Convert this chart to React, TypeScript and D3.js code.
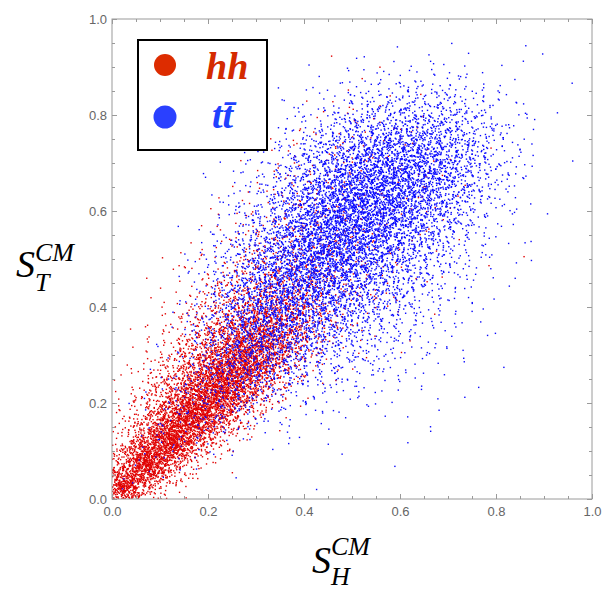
import React, { useRef, useEffect } from "react";
import * as d3 from "d3";

// Densities: number of events in each 0.05 x 0.05 cell.
// Rows go from the top of the plot (S_T 0.95-1.0) down to the bottom (0.0-0.05),
// columns from S_H 0.0-0.05 to 0.95-1.0.
const hhCounts: number[][] = [
  [0, 0, 0, 0, 0, 0, 0, 0, 0, 0, 0, 0, 0, 0, 0, 0, 0, 0, 0, 0],
  [0, 0, 0, 0, 0, 0, 0, 0, 0, 1, 0, 0, 0, 0, 0, 0, 0, 0, 0, 0],
  [0, 0, 0, 0, 0, 0, 0, 0, 0, 1, 1, 1, 0, 0, 0, 0, 0, 0, 0, 0],
  [0, 0, 0, 0, 0, 0, 0, 0, 1, 2, 2, 2, 1, 0, 0, 0, 0, 0, 0, 0],
  [0, 0, 0, 0, 0, 0, 0, 2, 3, 4, 4, 3, 2, 1, 0, 0, 0, 0, 0, 0],
  [0, 0, 0, 0, 0, 0, 2, 4, 5, 6, 6, 5, 3, 2, 1, 1, 0, 0, 0, 0],
  [0, 0, 0, 0, 0, 2, 4, 6, 8, 8, 7, 5, 4, 2, 1, 0, 0, 0, 0, 0],
  [0, 0, 0, 0, 1, 3, 6, 10, 12, 11, 8, 6, 4, 2, 1, 0, 0, 0, 0, 0],
  [0, 0, 0, 1, 3, 7, 12, 16, 18, 15, 10, 6, 3, 2, 1, 0, 0, 0, 0, 0],
  [0, 0, 1, 3, 7, 14, 24, 30, 28, 20, 12, 6, 3, 1, 1, 0, 1, 0, 0, 0],
  [0, 0, 2, 6, 14, 28, 42, 45, 35, 20, 10, 5, 2, 1, 0, 1, 0, 0, 0, 0],
  [0, 1, 5, 14, 32, 60, 80, 75, 45, 20, 8, 4, 2, 1, 0, 0, 0, 0, 0, 0],
  [0, 3, 10, 30, 70, 130, 160, 120, 50, 14, 4, 2, 1, 0, 0, 0, 0, 0, 0, 0],
  [1, 6, 22, 65, 150, 250, 240, 100, 25, 6, 2, 1, 0, 0, 0, 0, 0, 0, 0, 0],
  [2, 14, 50, 140, 300, 360, 170, 35, 7, 2, 1, 0, 0, 0, 0, 0, 0, 0, 0, 0],
  [5, 30, 110, 280, 440, 230, 45, 8, 1, 0, 0, 0, 0, 0, 0, 0, 0, 0, 0, 0],
  [12, 70, 260, 480, 230, 40, 6, 1, 0, 0, 0, 0, 0, 0, 0, 0, 0, 0, 0, 0],
  [30, 200, 520, 200, 30, 4, 0, 0, 0, 0, 0, 0, 0, 0, 0, 0, 0, 0, 0, 0],
  [120, 520, 150, 15, 2, 0, 0, 0, 0, 0, 0, 0, 0, 0, 0, 0, 0, 0, 0, 0],
  [450, 90, 6, 1, 0, 0, 0, 0, 0, 0, 0, 0, 0, 0, 0, 0, 0, 0, 0, 0],
];

const ttCounts: number[][] = [
  [0, 0, 0, 0, 0, 0, 0, 0, 0, 0, 0, 0, 0, 0, 0, 0, 0, 1, 0, 0],
  [0, 0, 0, 0, 0, 0, 0, 0, 0, 0, 1, 1, 1, 1, 2, 0, 1, 1, 0, 0],
  [0, 0, 0, 0, 0, 0, 0, 1, 2, 3, 6, 8, 10, 10, 8, 5, 2, 0, 0, 1],
  [0, 0, 0, 0, 1, 1, 1, 4, 8, 14, 24, 32, 38, 36, 28, 16, 6, 2, 1, 0],
  [0, 0, 0, 1, 1, 1, 3, 10, 20, 38, 62, 78, 85, 80, 56, 30, 10, 3, 0, 0],
  [0, 0, 0, 0, 1, 3, 8, 22, 50, 85, 125, 140, 140, 115, 78, 40, 13, 3, 1, 0],
  [0, 0, 0, 0, 2, 6, 16, 44, 85, 135, 180, 190, 170, 130, 78, 35, 13, 3, 0, 0],
  [0, 0, 0, 1, 4, 12, 32, 75, 130, 185, 215, 195, 150, 105, 58, 22, 7, 2, 0, 0],
  [0, 0, 0, 1, 6, 20, 48, 110, 170, 210, 200, 170, 115, 72, 36, 13, 4, 1, 0, 0],
  [0, 0, 0, 4, 14, 35, 77, 140, 190, 200, 165, 125, 80, 45, 20, 8, 3, 1, 0, 0],
  [0, 0, 1, 5, 20, 54, 108, 160, 180, 160, 120, 85, 52, 27, 13, 5, 2, 0, 0, 0],
  [0, 0, 1, 9, 30, 77, 128, 150, 140, 115, 80, 55, 30, 16, 8, 3, 1, 0, 0, 0],
  [0, 0, 2, 12, 40, 90, 128, 115, 95, 75, 48, 32, 18, 9, 5, 2, 0, 0, 0, 0],
  [0, 0, 2, 14, 45, 88, 107, 80, 60, 42, 28, 18, 11, 6, 3, 1, 0, 0, 0, 0],
  [0, 1, 5, 18, 48, 70, 67, 46, 32, 22, 16, 9, 6, 3, 2, 1, 0, 0, 0, 0],
  [0, 2, 8, 22, 40, 40, 30, 18, 14, 10, 6, 4, 3, 2, 1, 1, 0, 0, 0, 0],
  [0, 3, 11, 20, 22, 16, 11, 7, 4, 3, 2, 1, 1, 1, 0, 0, 0, 0, 0, 0],
  [0, 5, 9, 10, 7, 4, 3, 2, 1, 1, 0, 0, 1, 1, 0, 0, 0, 0, 0, 0],
  [1, 5, 4, 2, 1, 0, 0, 0, 0, 0, 0, 0, 1, 0, 0, 0, 0, 0, 0, 0],
  [2, 1, 0, 0, 0, 0, 0, 0, 1, 0, 0, 0, 0, 0, 0, 0, 0, 0, 0, 0],
];

const majorTicks = [0, 0.2, 0.4, 0.6, 0.8, 1.0];
const minorTicks = d3.range(0, 21).map((k) => k / 20).filter((v) => Math.round(v * 20) % 4 !== 0);
const cellSize = 0.05;

const hhColor = "#e00000";
const ttColor = "#0a0aff";

// low-discrepancy sequence (deterministic, no randomness)
function halton(index: number, base: number) {
  let f = 1;
  let r = 0;
  let i = index;
  while (i > 0) {
    f /= base;
    r += f * (i % base);
    i = Math.floor(i / base);
  }
  return r;
}

// every cell's events are spread over a tent-shaped footprint two cells wide,
// centred on the cell, so neighbouring cells blend instead of showing hard edges
function cellsToPoints(counts: number[][], start: number) {
  const pts: [number, number][] = [];
  let k = start;
  const rows = counts.length;
  counts.forEach((row, r) => {
    const j = rows - 1 - r;
    row.forEach((n, i) => {
      for (let c = 0; c < n; c++) {
        k++;
        const dx = halton(k, 2) + halton(k, 5) - 0.5;
        const dy = halton(k, 3) + halton(k, 7) - 0.5;
        const px = (i + dx) * cellSize;
        const py = (j + dy) * cellSize;
        if (px < 0 || py < 0 || px > 1 || py > 1) continue;
        pts.push([px, py]);
      }
    });
  });
  return pts;
}

const App: React.FC = () => {
  const svgRef = useRef<SVGSVGElement | null>(null);

  useEffect(() => {
    if (!svgRef.current) return;
    const svg = d3.select(svgRef.current);
    svg.selectAll("*").remove();

    const left = 112;
    const right = 592;
    const top = 19;
    const bottom = 499;

    const x = d3.scaleLinear().domain([0, 1]).range([left, right]);
    const y = d3.scaleLinear().domain([0, 1]).range([bottom, top]);

    const hhPts = cellsToPoints(hhCounts, 1);
    const ttPts = cellsToPoints(ttCounts, 50000);

    const clip = svg.append("defs").append("clipPath").attr("id", "plotClip");
    clip.append("rect").attr("x", left).attr("y", top).attr("width", right - left).attr("height", bottom - top);

    const pointsG = svg.append("g").attr("clip-path", "url(#plotClip)");
    const drawPts = (pts: [number, number][], color: string) => {
      pointsG
        .append("g")
        .selectAll("rect")
        .data(pts)
        .enter()
        .append("rect")
        .attr("x", (d) => x(d[0]) - 0.7)
        .attr("y", (d) => y(d[1]) - 0.7)
        .attr("width", 1.4)
        .attr("height", 1.4)
        .attr("fill", color);
    };
    drawPts(hhPts, hhColor);
    drawPts(ttPts, ttColor);

    // frame
    svg
      .append("rect")
      .attr("x", left)
      .attr("y", top)
      .attr("width", right - left)
      .attr("height", bottom - top)
      .attr("fill", "none")
      .attr("stroke", "#9a9a9a")
      .attr("stroke-width", 1);

    const styleAxis = (g: d3.Selection<SVGGElement, unknown, null, undefined>) => {
      g.select(".domain").remove();
      g.selectAll(".tick line").attr("stroke", "#9a9a9a");
      g.selectAll("text")
        .attr("fill", "#666")
        .style("font-family", "'Liberation Sans', Arial, sans-serif")
        .style("font-size", "13px");
    };

    // major ticks with labels
    svg
      .append("g")
      .attr("transform", `translate(0,${bottom})`)
      .call(d3.axisBottom(x).tickValues(majorTicks).tickSize(-5).tickPadding(8).tickFormat(d3.format(".1f")))
      .call(styleAxis);
    svg
      .append("g")
      .attr("transform", `translate(${left},0)`)
      .call(d3.axisLeft(y).tickValues(majorTicks).tickSize(-5).tickPadding(5).tickFormat(d3.format(".1f")))
      .call(styleAxis);
    svg
      .append("g")
      .attr("transform", `translate(0,${top})`)
      .call(d3.axisTop(x).tickValues(majorTicks).tickSize(-5).tickFormat(() => ""))
      .call(styleAxis);
    svg
      .append("g")
      .attr("transform", `translate(${right},0)`)
      .call(d3.axisRight(y).tickValues(majorTicks).tickSize(-5).tickFormat(() => ""))
      .call(styleAxis);

    // minor ticks
    svg
      .append("g")
      .attr("transform", `translate(0,${bottom})`)
      .call(d3.axisBottom(x).tickValues(minorTicks).tickSize(-3).tickFormat(() => ""))
      .call(styleAxis);
    svg
      .append("g")
      .attr("transform", `translate(${left},0)`)
      .call(d3.axisLeft(y).tickValues(minorTicks).tickSize(-3).tickFormat(() => ""))
      .call(styleAxis);
    svg
      .append("g")
      .attr("transform", `translate(0,${top})`)
      .call(d3.axisTop(x).tickValues(minorTicks).tickSize(-3).tickFormat(() => ""))
      .call(styleAxis);
    svg
      .append("g")
      .attr("transform", `translate(${right},0)`)
      .call(d3.axisRight(y).tickValues(minorTicks).tickSize(-3).tickFormat(() => ""))
      .call(styleAxis);

    // legend
    const legend = svg.append("g");
    legend
      .append("rect")
      .attr("x", 138)
      .attr("y", 40)
      .attr("width", 129)
      .attr("height", 110)
      .attr("fill", "white")
      .attr("stroke", "black")
      .attr("stroke-width", 2);
    legend.append("circle").attr("cx", 165).attr("cy", 65).attr("r", 11).attr("fill", "#dd2c00");
    legend.append("circle").attr("cx", 165).attr("cy", 117).attr("r", 11.5).attr("fill", "#2a40ff");
    const serif = "'Liberation Serif', 'Times New Roman', serif";
    legend
      .append("text")
      .attr("x", 206)
      .attr("y", 79)
      .attr("fill", "#d42a00")
      .style("font-family", serif)
      .style("font-style", "italic")
      .style("font-weight", "bold")
      .style("font-size", "38px")
      .text("hh");
    legend
      .append("text")
      .attr("x", 212)
      .attr("y", 128)
      .attr("fill", "#2040ff")
      .style("font-family", serif)
      .style("font-style", "italic")
      .style("font-weight", "bold")
      .style("font-size", "38px")
      .text("tt\u0304");

    // axis titles
    const title = (sx: number, sBase: number, sub: string, supBase: number, subBase: number, subX: number) => {
      const g = svg.append("g").style("font-family", serif).style("font-style", "italic").attr("fill", "black");
      g.append("text").attr("x", sx).attr("y", sBase).style("font-size", "38px").text("S");
      g.append("text").attr("x", subX).attr("y", supBase).style("font-size", "26px").text("CM");
      g.append("text").attr("x", subX).attr("y", subBase).style("font-size", "26px").text(sub);
    };
    title(312, 573, "H", 555, 585, 331);
    title(16, 277, "T", 261, 291, 35);
  }, []);

  return (
    <svg
      ref={svgRef}
      width={613}
      height={601}
      style={{ position: "absolute", left: 0, top: 0, background: "white" }}
    />
  );
};

export default App;
